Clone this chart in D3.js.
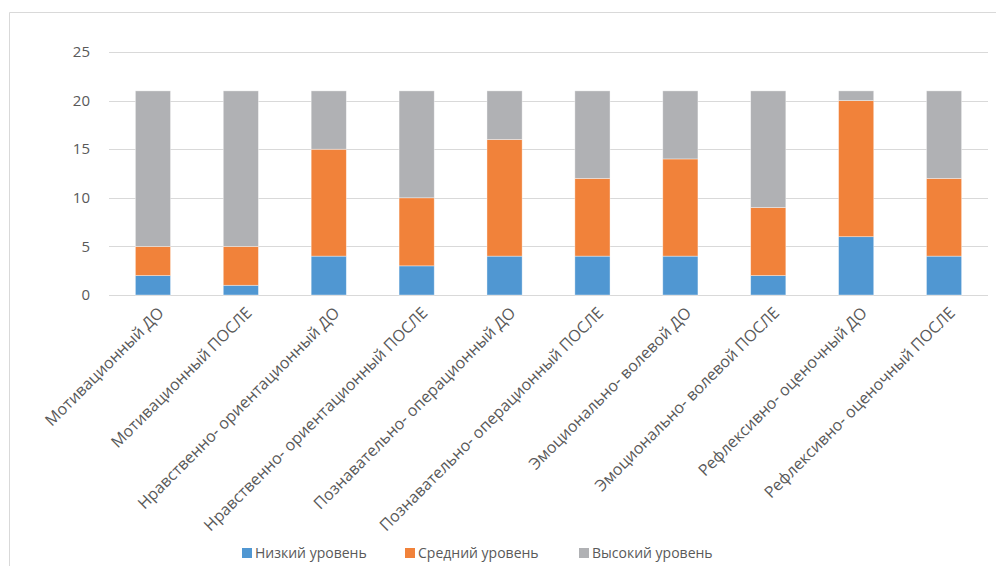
<!DOCTYPE html>
<html>
<head>
<meta charset="utf-8">
<script src="https://cdn.jsdelivr.net/npm/d3@7"></script>
<style>
  body { margin: 0; background: #fff; }
  text { font-family: "Open Sans", Lato, sans-serif; fill: #595959; }
</style>
</head>
<body>
<div id="chart"></div>
<script>
var categories = ["Мотивационный ДО", "Мотивационный ПОСЛЕ",
    "Нравственно- ориентационный ДО", "Нравственно- ориентационный ПОСЛЕ",
    "Познавательно- операционный ДО", "Познавательно- операционный ПОСЛЕ",
    "Эмоционально- волевой ДО", "Эмоционально- волевой ПОСЛЕ",
    "Рефлексивно- оценочный ДО", "Рефлексивно- оценочный ПОСЛЕ"];
var lowLevel = [2, 1, 4, 3, 4, 4, 4, 2, 6, 4];
var midLevel = [3, 4, 11, 7, 12, 8, 10, 7, 14, 8];
var highLevel = [16, 16, 6, 11, 5, 9, 7, 12, 1, 9];
var seriesNames = ["Низкий уровень", "Средний уровень", "Высокий уровень"];
var colors = ["#5097D2", "#F1823A", "#B0B1B4"];
var yTicks = [0, 5, 10, 15, 20, 25];

var W = 996, H = 566,
    margin = {top: 52, left: 109, right: 8, bottom: 271};

var svg = d3.select("#chart").append("svg")
    .attr("width", W)
    .attr("height", H);

// chart frame (top and left edges are visible)
svg.append("path")
    .attr("d", "M9.5," + H + "V12.5H" + W)
    .attr("fill", "none")
    .attr("stroke", "#d9d9d9");

var x = d3.scaleBand()
    .domain(categories)
    .range([margin.left, W - margin.right])
    .paddingInner(0.6)
    .paddingOuter(0.3);

var y = d3.scaleLinear()
    .domain([0, 25])
    .range([H - margin.bottom, margin.top]);

// gridlines
svg.append("g").selectAll("line")
    .data(yTicks)
    .enter().append("line")
    .attr("x1", margin.left).attr("x2", W - margin.right)
    .attr("y1", function(d) { return Math.round(y(d)) + 0.5; })
    .attr("y2", function(d) { return Math.round(y(d)) + 0.5; })
    .attr("stroke", "#d9d9d9")
    .attr("stroke-width", 1);

// y labels
svg.append("g").selectAll("text")
    .data(yTicks)
    .enter().append("text")
    .attr("x", 90)
    .attr("y", function(d) { return y(d); })
    .attr("dy", "0.35em")
    .attr("text-anchor", "end")
    .style("font-size", "15px")
    .text(function(d) { return d; });

var table = categories.map(function(c, i) {
    return {cat: c, low: lowLevel[i], mid: midLevel[i], high: highLevel[i]};
});
var stack = d3.stack().keys(["low", "mid", "high"]);
var layers = stack(table);

svg.append("g").selectAll("g")
    .data(layers)
    .enter().append("g")
    .attr("fill", function(d, i) { return colors[i]; })
    .selectAll("rect")
    .data(function(d) { return d; })
    .enter().append("rect")
    .attr("x", function(d) { return x(d.data.cat); })
    .attr("width", x.bandwidth())
    .attr("y", function(d) { return y(d[1]); })
    .attr("height", function(d) { return y(d[0]) - y(d[1]); })
    .attr("stroke", "#ffffff")
    .attr("stroke-opacity", 0.5)
    .attr("stroke-width", 0.75);

// category labels
svg.append("g").selectAll("text")
    .data(categories)
    .enter().append("text")
    .attr("transform", function(d) {
        return "translate(" + (x(d) + x.bandwidth() / 2 + 4) + "," + (H - margin.bottom + 11) + ") rotate(-45)";
    })
    .attr("text-anchor", "end")
    .attr("dy", "0.7em")
    .style("font-size", "16px")
    .text(function(d) { return d; });

// legend
var legendX = [242, 405, 579];
var legend = svg.append("g").selectAll("g")
    .data(seriesNames)
    .enter().append("g")
    .attr("transform", function(d, i) { return "translate(" + legendX[i] + ",548)"; });
legend.append("rect")
    .attr("width", 10).attr("height", 10)
    .attr("fill", function(d, i) { return colors[i]; });
legend.append("text")
    .attr("x", 13).attr("y", 5)
    .attr("dy", "0.36em")
    .style("font-size", "14px")
    .text(function(d) { return d; });
</script>
</body>
</html>
